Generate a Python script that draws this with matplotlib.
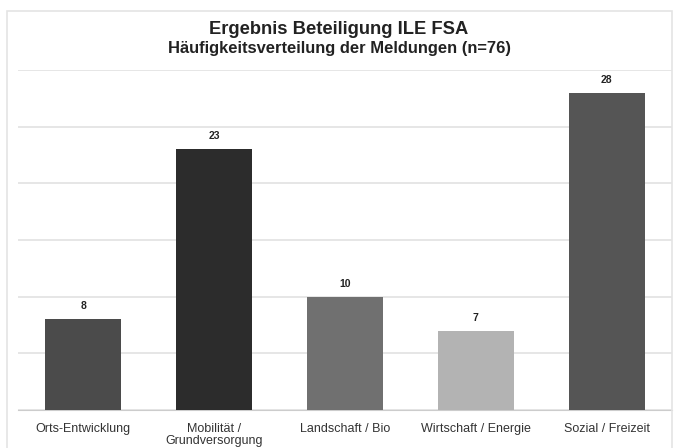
import matplotlib
matplotlib.use("Agg")
import matplotlib.pyplot as plt
from matplotlib.patches import Rectangle

# data
categories = ["Orts-Entwicklung", "Mobilität /\nGrundversorgung", "Landschaft / Bio",
              "Wirtschaft / Energie", "Sozial / Freizeit"]
counts = [8, 23, 10, 7, 28]
bar_colors = ["#4b4b4b", "#2c2c2c", "#707070", "#b3b3b3", "#555555"]

plt.rcParams['font.family'] = ['Liberation Sans', 'DejaVu Sans']

fig = plt.figure(figsize=(6.78, 4.48), dpi=100)
# light frame around the chart
fig.patches.append(Rectangle((7 / 678, -0.01), 665 / 678, (448 - 11) / 448 + 0.01,
                             transform=fig.transFigure, fill=False,
                             edgecolor="#e4e4e4", linewidth=1.2))

ax = fig.add_axes([18 / 678, 38 / 448, 654 / 678, 340 / 448])
x = range(len(categories))
bars = ax.bar(x, counts, width=0.58, color=bar_colors, zorder=3)

for b, v in zip(bars, counts):
    ax.text(b.get_x() + b.get_width() / 2, v + 0.7, str(v), ha="center", va="bottom",
            fontsize=7.5, fontweight="bold", color="#222222")

ax.set_ylim(0, 30)
ax.set_xlim(-0.5, len(categories) - 0.5)
ax.set_yticks(range(0, 31, 5))
ax.yaxis.grid(True, color="#e2e2e2", linewidth=1.2, zorder=0)
ax.tick_params(axis="y", left=False, labelleft=False)
ax.tick_params(axis="x", length=0, pad=9)
ax.set_xticks(list(x))
ax.set_xticklabels(categories, fontsize=9, color="#333333", linespacing=1.1)
for s in ["top", "right", "left"]:
    ax.spines[s].set_visible(False)
ax.spines["bottom"].set_color("#cccccc")

fig.text(0.5, 1 - 30 / 448, "Ergebnis Beteiligung ILE FSA", ha="center", va="center",
         fontsize=13.2, fontweight="bold", color="#222222")
fig.text(0.5, 1 - 48 / 448, "Häufigkeitsverteilung der Meldungen (n=76)", ha="center",
         va="center", fontsize=11.9, fontweight="bold", color="#222222")

fig.savefig("out.png", dpi=100)
